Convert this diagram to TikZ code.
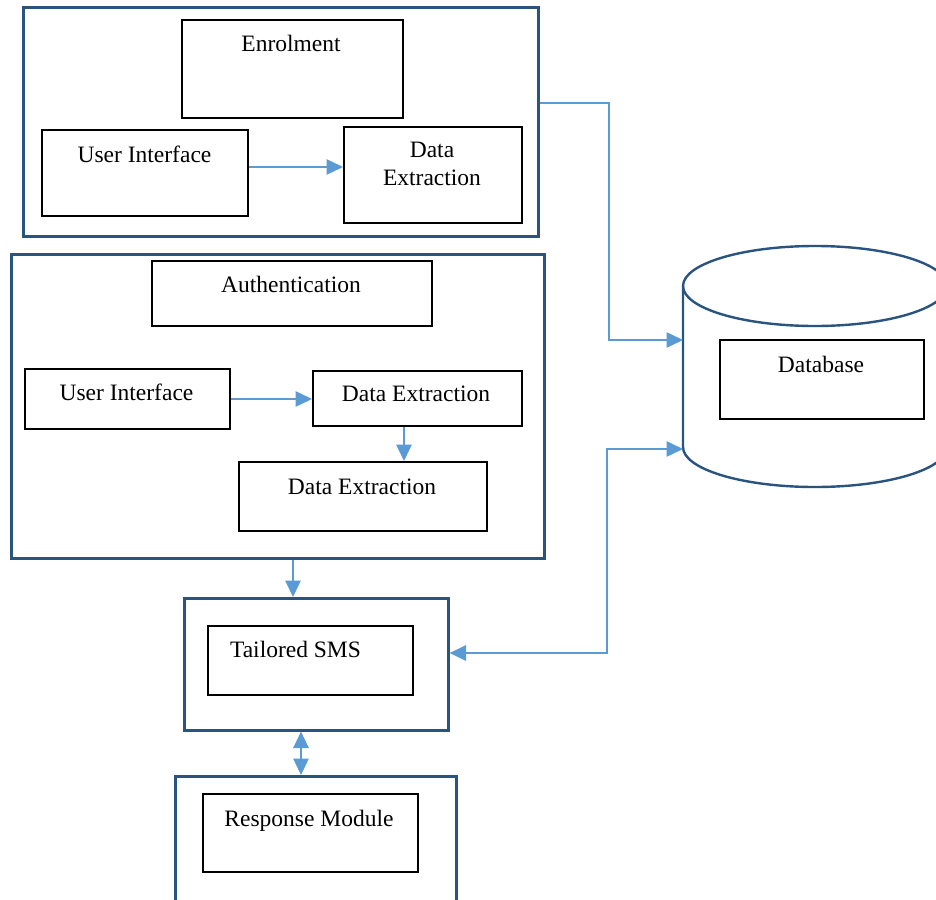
\documentclass[tikz,border=0pt]{standalone}
\usepackage{fontspec}
\setmainfont{Liberation Serif}
\usetikzlibrary{arrows.meta}
\definecolor{outerblue}{HTML}{2A5480}
\definecolor{connblue}{HTML}{5B9BD5}
\tikzset{
  outerbox/.style={draw=outerblue, line width=2.6pt, rectangle, inner sep=0pt, anchor=north west},
  innerbox/.style={draw=black, line width=2pt, rectangle, inner sep=0pt, anchor=north west},
  txt/.style={anchor=base, inner sep=0pt, font=\fontsize{23.5}{28}\selectfont, align=center},
  conn/.style={draw=connblue, line width=1.4pt, -{Triangle[length=16.5pt,width=15.5pt]}},
  conn2/.style={draw=connblue, line width=1.4pt, {Triangle[length=16.5pt,width=15.5pt]}-{Triangle[length=16.5pt,width=15.5pt]}},
}
\newcommand{\bx}[6]{\node[#6, minimum width=#4pt-#2pt, minimum height=#5pt-#3pt] (#1) at (#2,#3) {};}
\begin{document}
\begin{tikzpicture}[x=1pt,y=-1pt]
\useasboundingbox (0,0) rectangle (936,899);
% Enrolment group
\bx{enrolO}{22}{6}{537}{235}{outerbox}
\bx{enrol}{181}{19}{402}{117}{innerbox}
\bx{uie}{41}{129}{247}{215}{innerbox}
\bx{dee}{343}{126}{521}{222}{innerbox}
\node[txt] (enrolT) at (291,52) {Enrolment};
\node[txt] (uieT) at (144.5,162) {User Interface};
\node[txt] (deeT) at (432,185) {Data\\Extraction};
% Authentication group
\bx{authO}{10}{253}{543}{557}{outerbox}
\bx{auth}{151}{260}{431}{325}{innerbox}
\bx{uia}{24}{368}{229}{428}{innerbox}
\bx{dea}{312}{370}{521}{425}{innerbox}
\bx{deb}{238}{461}{486}{530}{innerbox}
\node[txt] (authT) at (291,292) {Authentication};
\node[txt] (uiaT) at (126.5,400) {User Interface};
\node[txt] (deaT) at (416,401) {Data Extraction};
\node[txt] (debT) at (362,494) {Data Extraction};
% Tailored SMS
\bx{smsO}{183}{597}{447}{729}{outerbox}
\bx{sms}{207}{625}{412}{694}{innerbox}
\node[txt] (smsT) at (295.5,657) {Tailored SMS};
% Response module
\bx{respO}{174}{775}{455}{920}{outerbox}
\bx{resp}{202}{793}{417}{871}{innerbox}
\node[txt] (respT) at (309,826) {Response Module};
% Database cylinder
\begin{scope}
\clip (0,0) rectangle (936,899);
\draw[draw=outerblue, line width=2.4pt, fill=white] (683,286) -- (683,447) arc[start angle=180, end angle=0, x radius=132, y radius=40] -- (947,286);
\draw[draw=outerblue, line width=2.4pt] (815,286) ellipse[x radius=132, y radius=40];
\end{scope}
\coordinate (dbin1) at (683,340);
\coordinate (dbin2) at (683,449);
\bx{db}{719}{339}{923}{418}{innerbox}
\node[txt] (dbT) at (821,372) {Database};
% Connectors
\draw[conn] ([yshift=6pt]uie.east) -- ([yshift=6pt]uie.east -| dee.west);
\draw[conn] (uia.east |- 0,399) -- (dea.west |- 0,399);
\draw[conn] (dea.south -| 404,0) -- (deb.north -| 404,0);
\draw[conn] (enrolO.east |- 0,103) -| (609,340) -- (dbin1);
\draw[conn] (authO.south -| 293,0) -- (smsO.north -| 293,0);
\draw[conn2] (dbin2) -- (607,449) |- (smsO.east |- 0,653);
\draw[conn2] (smsO.south -| 301,0) -- (respO.north -| 301,0);
\end{tikzpicture}
\end{document}
